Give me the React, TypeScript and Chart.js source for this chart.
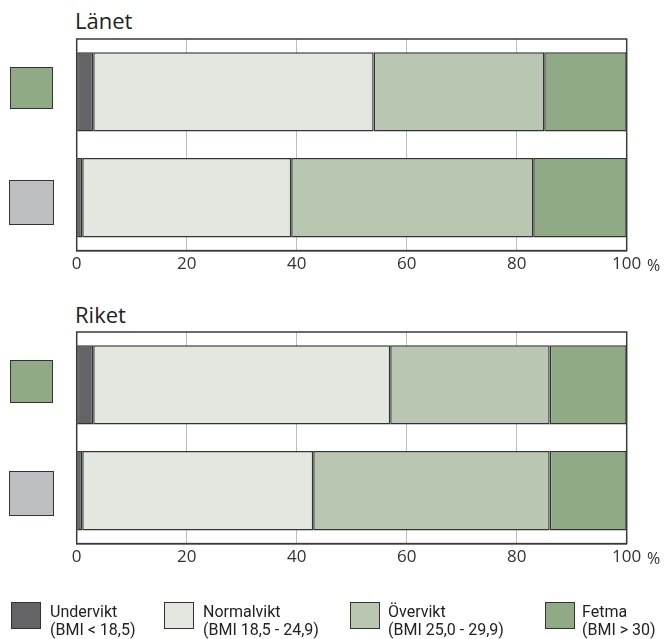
import React, { useEffect, useRef } from "react";
import { Chart, registerables } from "chart.js";
Chart.register(...registerables);

// ---- data ----
const categories = ["Grupp 1", "Grupp 2"];
const seriesNames = ["Undervikt", "Normalvikt", "Övervikt", "Fetma"];
const seriesSub = ["(BMI < 18,5)", "(BMI 18,5 - 24,9)", "(BMI 25,0 - 29,9)", "(BMI > 30)"];
const seriesColors = ["#646466", "#e2e8df", "#b9c6b1", "#8faa85"];
const groupColors = ["#8faa84", "#bdbfc3"];

const lanetUndervikt = [3, 1];
const lanetNormalvikt = [51, 38];
const lanetOvervikt = [31, 44];
const lanetFetma = [15, 17];

const riketUndervikt = [3, 1];
const riketNormalvikt = [54, 42];
const riketOvervikt = [29, 43];
const riketFetma = [14, 14];

const xTicks = [0, 20, 40, 60, 80, 100];
const panelTitles = ["Länet", "Riket"];
const unitLabel = "%";

const lanetValues = [lanetUndervikt, lanetNormalvikt, lanetOvervikt, lanetFetma];
const riketValues = [riketUndervikt, riketNormalvikt, riketOvervikt, riketFetma];

const framePlugin = {
  id: "frame",
  afterDatasetsDraw(chart: any) {
    const { ctx, chartArea } = chart;
    ctx.save();
    ctx.strokeStyle = "#3a3a3a";
    ctx.lineWidth = 1.5;
    ctx.strokeRect(chartArea.left, chartArea.top, chartArea.right - chartArea.left, chartArea.bottom - chartArea.top);
    ctx.restore();
  },
};

const CANVAS_H = 247;

function BarPanel({ values, top }: { values: number[][]; top: number }) {
  const ref = useRef<HTMLCanvasElement | null>(null);
  useEffect(() => {
    if (!ref.current) return;
    const chart = new Chart(ref.current, {
      type: "bar",
      data: {
        labels: categories,
        datasets: seriesNames.map((n, i) => ({
          label: n,
          data: values[i],
          backgroundColor: seriesColors[i],
          borderColor: "#333333",
          borderWidth: 1.5,
          borderSkipped: false,
          categoryPercentage: 0.75,
          barPercentage: 1,
        })),
      },
      options: {
        indexAxis: "y",
        responsive: false,
        animation: false,
        layout: { padding: { left: 76.7, right: 37.3, top: 9, bottom: 0 } },
        plugins: { legend: { display: false }, tooltip: { enabled: false } },
        scales: {
          x: {
            stacked: true,
            min: 0,
            max: 100,
            afterBuildTicks: (s: any) => {
              s.ticks = xTicks.map((v) => ({ value: v }));
            },
            ticks: {
              font: { family: '"Open Sans"', size: 17 },
              color: "#333333",
              padding: 3,
              maxRotation: 0,
              autoSkip: false,
            },
            grid: {
              drawTicks: false,
              lineWidth: 1,
              color: (c: any) =>
                c.tick && (c.tick.value === 0 || c.tick.value === 100) ? "rgba(0,0,0,0)" : "#bdbdbd",
            },
            border: { display: true, color: "#333333", width: 1.5 },
          },
          y: { stacked: true, display: false },
        },
      } as any,
      plugins: [framePlugin],
    });
    return () => chart.destroy();
  }, [values]);
  return (
    <canvas
      ref={ref}
      width={664}
      height={CANVAS_H}
      style={{ position: "absolute", left: 0, top, width: 664, height: CANVAS_H }}
    />
  );
}

const squareStyle = (left: number, top: number, w: number, h: number, bg: string): React.CSSProperties => ({
  position: "absolute",
  left,
  top,
  width: w,
  height: h,
  boxSizing: "border-box",
  border: "1.5px solid #333",
  background: bg,
});

const titleStyle = (top: number): React.CSSProperties => ({
  position: "absolute",
  left: 75,
  top,
  fontFamily: '"Open Sans"',
  fontSize: 22,
  lineHeight: "30px",
  color: "#222",
  whiteSpace: "nowrap",
});

const unitStyle = (top: number): React.CSSProperties => ({
  position: "absolute",
  left: 647,
  top,
  fontFamily: '"Open Sans"',
  fontSize: 16,
  lineHeight: "20px",
  color: "#333",
});

const legendSquareX = [11, 164, 350, 545];
const legendTextX = [50, 203, 388, 582];

export default function App() {
  useEffect(() => {
    document.body.style.margin = "0";
  }, []);
  const offset = 293.3;
  return (
    <div style={{ position: "relative", width: 664, height: 639, overflow: "hidden", background: "#fff" }}>
      <div style={titleStyle(4.8)}>{panelTitles[0]}</div>
      <div style={titleStyle(4.8 + offset + 0.7)}>{panelTitles[1]}</div>

      <BarPanel values={lanetValues} top={30} />
      <BarPanel values={riketValues} top={30 + offset} />

      <div style={squareStyle(10, 67, 43, 42, groupColors[0])} />
      <div style={squareStyle(9, 180, 45, 45, groupColors[1])} />
      <div style={squareStyle(10, 360, 43, 43, groupColors[0])} />
      <div style={squareStyle(9, 471, 45, 45, groupColors[1])} />

      <div style={unitStyle(255)}>{unitLabel}</div>
      <div style={unitStyle(548)}>{unitLabel}</div>

      {seriesNames.map((n, i) => (
        <React.Fragment key={n}>
          <div style={squareStyle(legendSquareX[i], 602, 30, 27, seriesColors[i])} />
          <div
            style={{
              position: "absolute",
              left: legendTextX[i],
              top: 602.5,
              fontFamily: "Roboto",
              fontSize: 16,
              lineHeight: "18px",
              color: "#222",
              whiteSpace: "nowrap",
            }}
          >
            <div>{n}</div>
            <div>{seriesSub[i]}</div>
          </div>
        </React.Fragment>
      ))}
    </div>
  );
}
